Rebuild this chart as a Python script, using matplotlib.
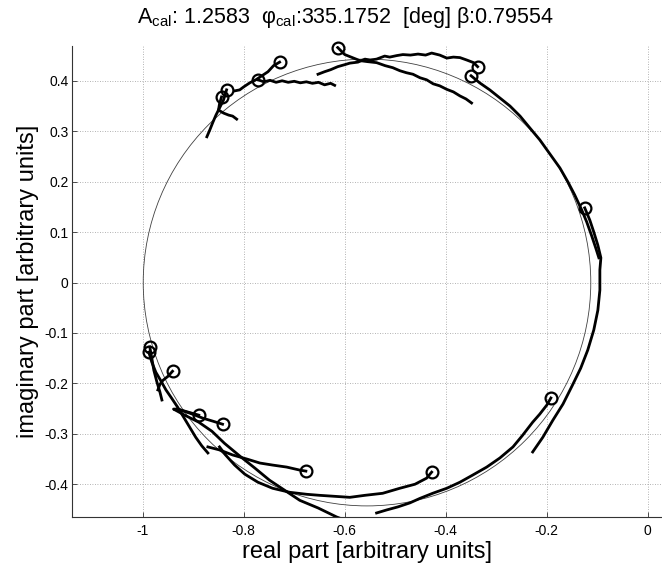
# -*- coding: utf-8 -*-

import matplotlib.pyplot as plt
from matplotlib.patches import Circle

plt.rcParams['font.family'] = ['Liberation Sans', 'DejaVu Sans']
plt.rcParams['mathtext.fontset'] = 'custom'
plt.rcParams['mathtext.rm'] = 'Liberation Sans'
plt.rcParams['mathtext.it'] = 'Liberation Sans:italic'

# %% data ---------------------------------------------------------------------

title = (r'A$_{\mathrm{cal}}$: 1.2583  φ$_{\mathrm{cal}}$:335.1752  '
         r'[deg] β:0.79554')

# fitted calibration circle
circ_re, circ_im, circ_r = -0.556, 0.0, 0.443

# trajectories, first point = circle marker
top1_re = [-0.614, -0.600, -0.585, -0.570, -0.555, -0.537, -0.520, -0.505,
           -0.491, -0.478, -0.465, -0.451, -0.438, -0.425, -0.412, -0.398,
           -0.385, -0.372, -0.360, -0.349]
top1_im = [0.466, 0.452, 0.446, 0.440, 0.438, 0.436, 0.430, 0.426, 0.420,
           0.416, 0.413, 0.406, 0.402, 0.394, 0.390, 0.383, 0.378, 0.370,
           0.364, 0.356]

top2_re = [-0.337, -0.345, -0.358, -0.372, -0.385, -0.398, -0.412, -0.428,
           -0.440, -0.455, -0.470, -0.485, -0.497, -0.511, -0.521, -0.537,
           -0.550, -0.560, -0.574, -0.590, -0.600, -0.614, -0.628, -0.640,
           -0.653]
top2_im = [0.428, 0.436, 0.441, 0.446, 0.447, 0.445, 0.451, 0.455, 0.451,
           0.453, 0.451, 0.452, 0.450, 0.447, 0.449, 0.443, 0.441, 0.443,
           0.437, 0.435, 0.432, 0.428, 0.422, 0.418, 0.413]

right1_re = [-0.350, -0.333, -0.313, -0.293, -0.273, -0.253, -0.234, -0.214,
             -0.194, -0.174, -0.158, -0.145, -0.131, -0.121, -0.111, -0.103,
             -0.097]
right1_im = [0.410, 0.396, 0.382, 0.366, 0.350, 0.330, 0.307, 0.283, 0.255,
             0.227, 0.199, 0.174, 0.144, 0.120, 0.092, 0.068, 0.049]

right2_re = [-0.125, -0.115, -0.107, -0.099, -0.093, -0.095, -0.095, -0.099,
             -0.107, -0.119, -0.133, -0.150, -0.168, -0.188, -0.208, -0.228]
right2_im = [0.148, 0.124, 0.100, 0.074, 0.049, 0.025, -0.015, -0.055,
             -0.094, -0.134, -0.170, -0.205, -0.241, -0.273, -0.307, -0.336]

left1_re = [-0.729, -0.741, -0.752, -0.764, -0.776, -0.788, -0.800, -0.808,
            -0.818]
left1_im = [0.437, 0.430, 0.418, 0.410, 0.402, 0.396, 0.388, 0.382, 0.380]

left2_re = [-0.772, -0.760, -0.748, -0.736, -0.724, -0.712, -0.700, -0.688,
            -0.676, -0.664, -0.652, -0.640, -0.628, -0.620]
left2_im = [0.402, 0.398, 0.401, 0.397, 0.400, 0.397, 0.399, 0.396, 0.398,
            0.395, 0.397, 0.392, 0.395, 0.391]

left3_re = [-0.834, -0.840, -0.848, -0.855, -0.861, -0.867, -0.873]
left3_im = [0.382, 0.362, 0.346, 0.332, 0.318, 0.303, 0.289]

left4_re = [-0.844, -0.848, -0.850, -0.840, -0.830, -0.822, -0.814]
left4_im = [0.368, 0.354, 0.342, 0.336, 0.332, 0.330, 0.324]

low1_re = [-0.986, -0.982, -0.978, -0.972, -0.966, -0.962]
low1_im = [-0.128, -0.150, -0.174, -0.197, -0.217, -0.233]

low2_re = [-0.988, -0.982, -0.974, -0.964, -0.954, -0.943, -0.931, -0.919,
           -0.907, -0.895, -0.883, -0.871]
low2_im = [-0.138, -0.158, -0.178, -0.195, -0.213, -0.229, -0.247, -0.267,
           -0.287, -0.307, -0.324, -0.338]

low3_re = [-0.941, -0.950, -0.960, -0.966, -0.970]
low3_im = [-0.176, -0.186, -0.194, -0.202, -0.213]

low4_re = [-0.889, -0.903, -0.917, -0.931]
low4_im = [-0.263, -0.259, -0.255, -0.251]

low5_re = [-0.842, -0.861, -0.881, -0.907, -0.931, -0.939, -0.917, -0.889,
           -0.863, -0.838, -0.808, -0.778, -0.749, -0.719, -0.689, -0.653,
           -0.616, -0.600]
low5_im = [-0.281, -0.275, -0.269, -0.259, -0.251, -0.251, -0.263, -0.277,
           -0.295, -0.319, -0.344, -0.368, -0.392, -0.412, -0.432, -0.447,
           -0.465, -0.471]

low6_re = [-0.677, -0.689, -0.715, -0.743, -0.768, -0.794, -0.822, -0.848,
           -0.871]
low6_im = [-0.374, -0.372, -0.366, -0.362, -0.358, -0.350, -0.342, -0.332,
           -0.326]

bot1_re = [-0.428, -0.438, -0.461, -0.491, -0.525, -0.560, -0.590, -0.620,
           -0.650, -0.675, -0.709, -0.743, -0.772, -0.798, -0.818, -0.836,
           -0.848]
bot1_im = [-0.376, -0.388, -0.400, -0.408, -0.418, -0.422, -0.426, -0.424,
           -0.422, -0.420, -0.416, -0.408, -0.396, -0.380, -0.362, -0.342,
           -0.326]

bot2_re = [-0.192, -0.200, -0.214, -0.228, -0.248, -0.267, -0.293, -0.319,
           -0.347, -0.372, -0.398, -0.426, -0.451, -0.471, -0.495, -0.517,
           -0.537]
bot2_im = [-0.229, -0.243, -0.261, -0.277, -0.303, -0.326, -0.348, -0.366,
           -0.382, -0.396, -0.408, -0.418, -0.428, -0.437, -0.445, -0.451,
           -0.457]

traces = [(top1_re, top1_im), (top2_re, top2_im),
          (right1_re, right1_im), (right2_re, right2_im),
          (left1_re, left1_im), (left2_re, left2_im),
          (left3_re, left3_im), (left4_re, left4_im),
          (low1_re, low1_im), (low2_re, low2_im), (low3_re, low3_im),
          (low4_re, low4_im), (low5_re, low5_im), (low6_re, low6_im),
          (bot1_re, bot1_im), (bot2_re, bot2_im)]

x_ticks = [-1, -0.8, -0.6, -0.4, -0.2, 0]
x_ticklabels = ['-1', '-0.8', '-0.6', '-0.4', '-0.2', '0']
y_ticks = [-0.4, -0.3, -0.2, -0.1, 0, 0.1, 0.2, 0.3, 0.4]
y_ticklabels = ['-0.4', '-0.3', '-0.2', '-0.1', '0', '0.1', '0.2', '0.3',
                '0.4']

# %% plot ---------------------------------------------------------------------
fig = plt.figure(figsize=(6.62, 5.65), dpi=100)
ax = fig.add_axes([72/662, 48/565, 590/662, 471/565])

ax.add_patch(Circle((circ_re, circ_im), circ_r, fill=False,
                    edgecolor='#404040', linewidth=0.6, zorder=2))

for re, im in traces:
    ax.plot(re, im, color='black', linewidth=2.0, zorder=3,
            solid_joinstyle='round')
    ax.plot(re[0], im[0], 'o', markerfacecolor='none',
            markeredgecolor='black', markersize=8.5, markeredgewidth=1.6,
            zorder=4, clip_on=False)

ax.set_xlim(-1.14, 0.028)
ax.set_ylim(-0.465, 0.469)
ax.set_xticks(x_ticks)
ax.set_xticklabels(x_ticklabels)
ax.set_yticks(y_ticks)
ax.set_yticklabels(y_ticklabels)
ax.tick_params(direction='in', length=3.5, width=0.6, labelsize=10,
               colors='#333333', labelcolor='black')
ax.tick_params(axis='x', pad=5)
ax.tick_params(axis='y', pad=2.5)
ax.grid(True, linestyle=(0, (1, 2)), color='#9a9a9a', linewidth=0.6)
ax.set_axisbelow(True)
for side in ('top', 'right'):
    ax.spines[side].set_visible(False)
for side in ('left', 'bottom'):
    ax.spines[side].set_linewidth(0.8)
    ax.spines[side].set_color('#333333')

ax.set_xlabel('real part [arbitrary units]', fontsize=17, labelpad=2)
ax.set_ylabel('imaginary part [arbitrary units]', fontsize=17, labelpad=4)
fig.text(345/662, 1 - 18/565, title, fontsize=15.5, ha='center',
         va='center')

fig.savefig('out.png', dpi=100)
